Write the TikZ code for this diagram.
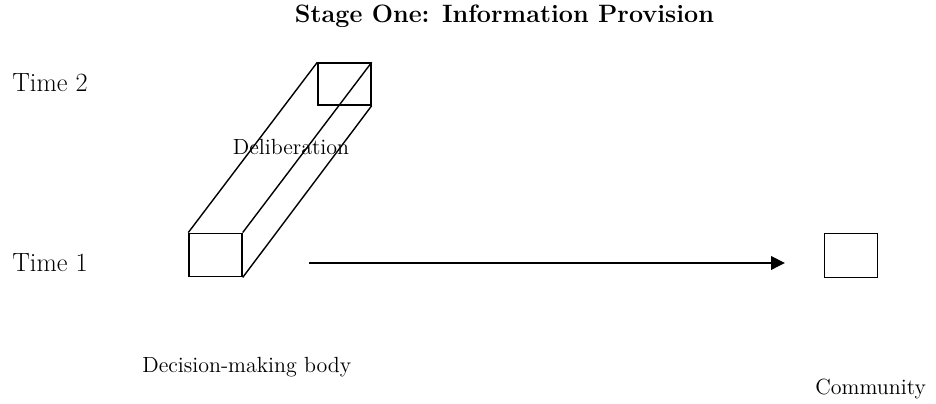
\documentclass[tikz,border=0pt]{standalone}
\usepackage{tikz}
\usetikzlibrary{arrows.meta}
\tikzset{box/.style={rectangle,draw,line width=0.8pt,minimum width=1.06cm,minimum height=0.87cm,inner sep=0pt},
lbl/.style={inner sep=0pt,font=\fontsize{12.5}{15}\selectfont},
timelbl/.style={inner sep=0pt,font=\fontsize{15}{18}\selectfont}}

\begin{document}
\begin{tikzpicture}[x=0.02cm,y=-0.02cm,>={Triangle[length=0.28cm,width=0.27cm]}]
    \useasboundingbox (0,0) rectangle (936,404);
    \node[inner sep=0pt,anchor=base,font=\fontsize{14.3}{17}\selectfont\bfseries] (title) at (504.5,23) {Stage One: Information Provision};

    \node[timelbl,anchor=base west] (t2) at (12,92) {Time 2};
    \node[timelbl,anchor=base west] (t1) at (12,272) {Time 1};

    \node[box] (body1) at (215.5,255) {};
    \node[box,minimum height=0.84cm] (body2) at (344.5,84) {};
    \node[box] (comm) at (851,255.5) {};

    \draw [line width=0.8pt] (body1.north west) to [] (body2.north west);
    \draw [line width=0.8pt] (body1.north east) to [] (body2.north east);
    \draw [line width=0.8pt] (body1.south east) to [] (body2.south east);

    \node[lbl,anchor=base] (delib) at (291,155) {Deliberation};
    \node[lbl,anchor=base west] (dmb) at (142,373) {Decision-making body};
    \node[lbl,anchor=base west] (commlbl) at (815,395) {Community};

    \coordinate (from) at (309,263);
    \coordinate (to) at (785,263);
    \draw [->,line width=1.1pt] (from) to [] (to);
\end{tikzpicture}
\end{document}
